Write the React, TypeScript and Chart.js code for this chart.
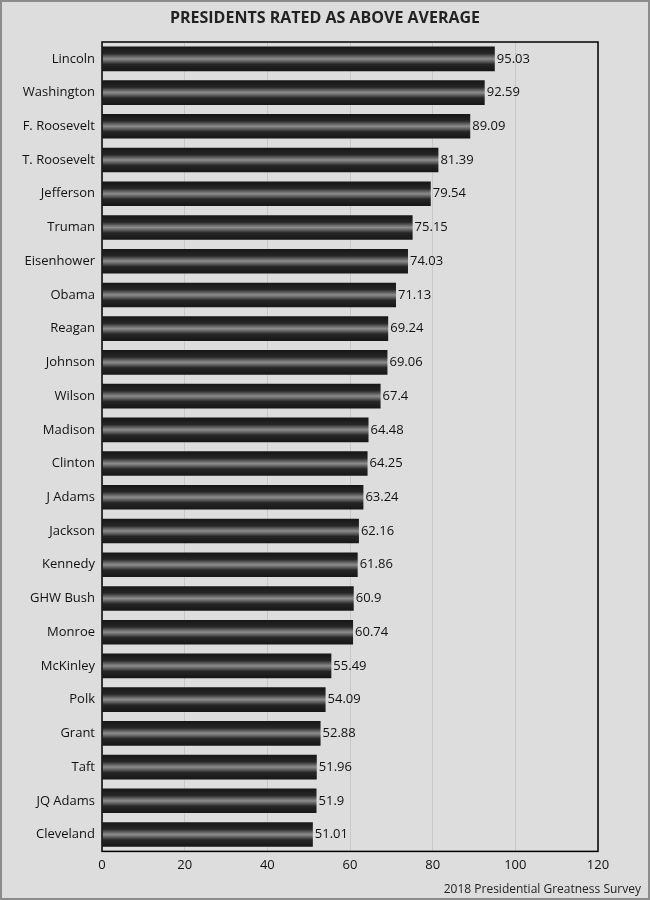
import { useEffect, useRef } from "react";
import { Chart, registerables } from "chart.js";
import type { Plugin } from "chart.js";

Chart.register(...registerables);

const presidents = [
  "Lincoln", "Washington", "F. Roosevelt", "T. Roosevelt", "Jefferson", "Truman",
  "Eisenhower", "Obama", "Reagan", "Johnson", "Wilson", "Madison",
  "Clinton", "J Adams", "Jackson", "Kennedy", "GHW Bush", "Monroe",
  "McKinley", "Polk", "Grant", "Taft", "JQ Adams", "Cleveland",
];
const scores = [
  95.03, 92.59, 89.09, 81.39, 79.54, 75.15,
  74.03, 71.13, 69.24, 69.06, 67.4, 64.48,
  64.25, 63.24, 62.16, 61.86, 60.9, 60.74,
  55.49, 54.09, 52.88, 51.96, 51.9, 51.01,
];
const xTicks = [0, 20, 40, 60, 80, 100, 120];
const title = "PRESIDENTS RATED AS ABOVE AVERAGE";
const source = "2018 Presidential Greatness Survey";

const FONT = "'Open Sans', sans-serif";
const BAR_PCT = 0.73;

// background, frame, title, footer and value labels
const decor: Plugin<"bar"> = {
  id: "decor",
  beforeDraw(chart) {
    const { ctx, width, height } = chart;
    ctx.save();
    ctx.fillStyle = "#dddddd";
    ctx.fillRect(0, 0, width, height);
    ctx.strokeStyle = "#8c8c8c";
    ctx.lineWidth = 2;
    ctx.strokeRect(1, 1, width - 2, height - 2);
    ctx.restore();
  },
  afterDatasetsDraw(chart) {
    const { ctx } = chart;
    const meta = chart.getDatasetMeta(0);
    ctx.save();
    ctx.font = `13px ${FONT}`;
    ctx.fillStyle = "#111";
    ctx.textAlign = "left";
    ctx.textBaseline = "middle";
    meta.data.forEach((el, i) => {
      const { x, y } = el.getProps(["x", "y"], true);
      ctx.fillText(String(scores[i]), x + 2, y);
    });
    ctx.restore();
  },
  afterDraw(chart) {
    const { ctx, chartArea, width, height } = chart;
    ctx.save();
    ctx.strokeStyle = "#000";
    ctx.lineWidth = 1.5;
    ctx.strokeRect(chartArea.left, chartArea.top, chartArea.right - chartArea.left, chartArea.bottom - chartArea.top);
    ctx.fillStyle = "#222";
    ctx.textBaseline = "middle";
    ctx.textAlign = "center";
    ctx.font = `bold 16px ${FONT}`;
    ctx.fillText(title, width / 2, 18);
    ctx.textAlign = "right";
    ctx.font = `12px ${FONT}`;
    ctx.fillText(source, width - 9, height - 10);
    ctx.restore();
  },
};

export default function App() {
  const canvasRef = useRef<HTMLCanvasElement>(null);
  const chartRef = useRef<Chart<"bar"> | null>(null);

  useEffect(() => {
    document.body.style.margin = "0";
    if (!canvasRef.current) return;

    chartRef.current?.destroy();
    chartRef.current = new Chart(canvasRef.current, {
      type: "bar",
      data: {
        labels: presidents,
        datasets: [
          {
            data: scores,
            barPercentage: BAR_PCT,
            categoryPercentage: 1,
            borderWidth: 0,
            backgroundColor: (c) => {
              const chart = c.chart;
              const y = chart.scales.y;
              if (!y || !chart.chartArea) return "#1c1c1c";
              const cy = y.getPixelForValue(c.dataIndex);
              const half = ((y.bottom - y.top) / presidents.length) * BAR_PCT / 2;
              const g = chart.ctx.createLinearGradient(0, cy - half, 0, cy + half);
              g.addColorStop(0, "#161616");
              g.addColorStop(0.28, "#262626");
              g.addColorStop(0.42, "#6a6a6a");
              g.addColorStop(0.5, "#8c8c8c");
              g.addColorStop(0.58, "#6a6a6a");
              g.addColorStop(0.72, "#262626");
              g.addColorStop(1, "#161616");
              return g;
            },
          },
        ],
      },
      options: {
        indexAxis: "y",
        animation: false,
        responsive: false,
        events: [],
        layout: { padding: { top: 42, right: 52, left: 0, bottom: 21 } },
        plugins: {
          legend: { display: false },
          tooltip: { enabled: false },
          title: { display: false },
        },
        scales: {
          x: {
            min: 0,
            max: 120,
            afterBuildTicks: (axis) => {
              axis.ticks = xTicks.map((v) => ({ value: v }));
            },
            ticks: { color: "#111", font: { family: FONT, size: 13 }, padding: 6 },
            grid: { color: "#c8c8c8", drawTicks: false, lineWidth: 1 },
            border: { display: false },
          },
          y: {
            afterFit: (axis) => {
              axis.width = 102;
            },
            ticks: { color: "#111", font: { family: FONT, size: 13 }, padding: 7 },
            grid: { display: false, drawTicks: false },
            border: { display: false },
          },
        },
      },
      plugins: [decor],
    });

    return () => chartRef.current?.destroy();
  }, []);

  return (
    <div style={{ width: 650, height: 900 }}>
      <canvas ref={canvasRef} width={650} height={900} />
    </div>
  );
}
